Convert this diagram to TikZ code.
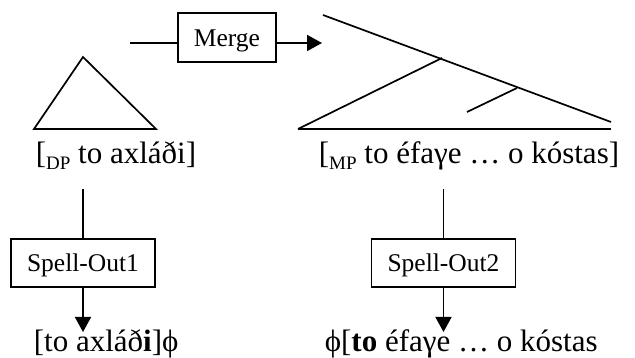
\documentclass[tikz,border=0pt]{standalone}
\usepackage{fontspec}
\setmainfont{Liberation Serif}
\usetikzlibrary{arrows.meta}
\newcommand{\lowsub}[1]{\raisebox{-5.5pt}{\fontsize{19}{21}\selectfont #1}}
\begin{document}
\begin{tikzpicture}[x=1pt,y=-1pt,
  line width=1.7pt,
  opbox/.style={draw, line width=1.7pt, inner sep=0pt,
    font=\fontsize{25.5}{30}\selectfont, text height=19.5pt, text depth=1.5pt},
  phrase/.style={anchor=base west, inner sep=0pt, font=\fontsize{31}{36}\selectfont},
  tip/.style={-{Triangle[length=15pt,width=16pt]}}
]
\useasboundingbox (0,0) rectangle (635,358);

% operation boxes
\node[opbox, minimum width=97.5pt, minimum height=48.5pt] (merge) at (227,37.5) {Merge};
\node[opbox, minimum width=144pt, minimum height=48pt] (spellA) at (83,263) {Spell-Out1};
\node[opbox, minimum width=144pt, minimum height=48pt] (spellB) at (443.5,263) {Spell-Out2};

% phrase labels
\node[phrase] (dp) at (35,164) {[\lowsub{DP} to axláði]};
\node[phrase] (mp) at (318,164) {[\lowsub{MP} to éfaγe … o kóstas]};
\node[phrase] (outA) at (33,352) {[to axláð\textbf{i}]ϕ};
\node[phrase] (outB) at (324,352) {ϕ[\textbf{to} éfaγe … o kóstas};

% DP triangle
\draw (34,129) -- (156,129) -- (83,57) -- cycle;

% MP tree
\draw (323,15) -- (611,122);
\draw (298,129) -- (611,129);
\draw (298,129) -- (442,58);
\draw (467,112) -- (517,88);

% Merge connector
\coordinate (mstart) at (130,43);
\coordinate (mend) at (322,43);
\draw (mstart) -- (mstart -| merge.west);
\draw[tip] (merge.east |- mstart) -- (mend);

% Spell-Out connectors
\coordinate (dpfoot) at (83,189);
\coordinate (mpfoot) at (443.5,189);
\coordinate (outAtop) at (83,332);
\coordinate (outBtop) at (443.5,332);
\draw (dpfoot) -- (spellA.north);
\draw[tip] (spellA.south) -- (outAtop);
\draw (mpfoot) -- (spellB.north);
\draw[tip] (spellB.south) -- (outBtop);
\end{tikzpicture}
\end{document}
